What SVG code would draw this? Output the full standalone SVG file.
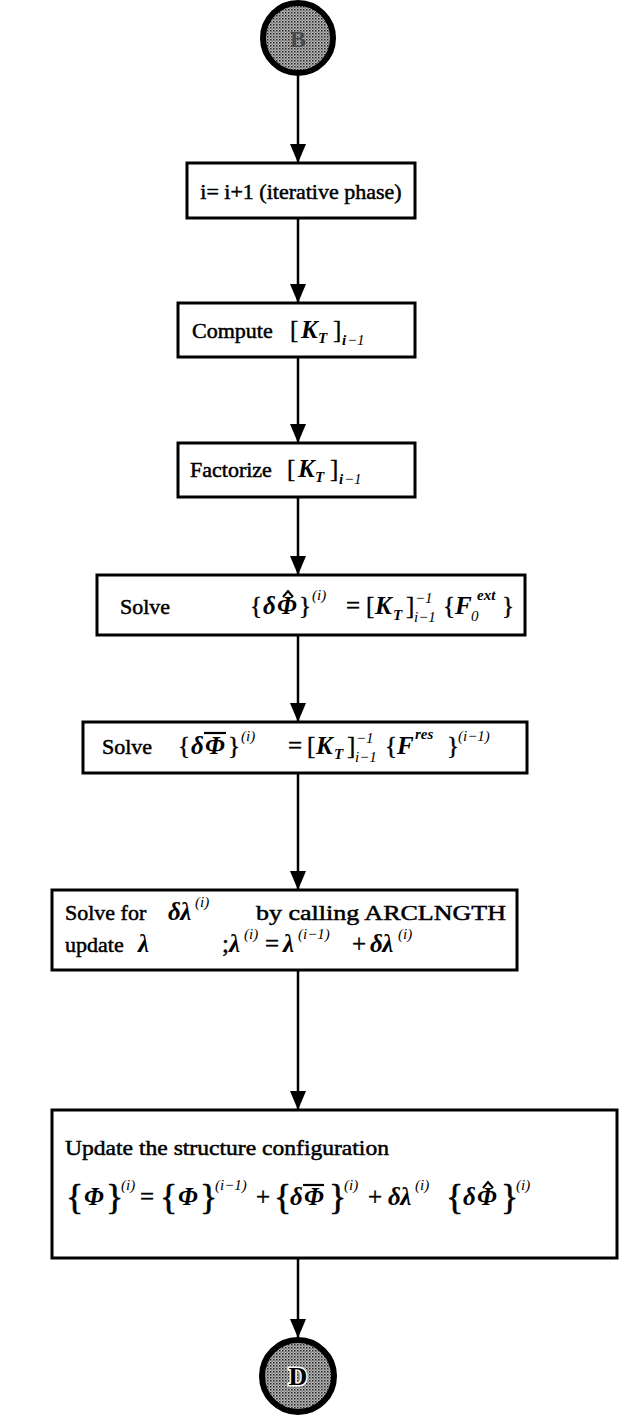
<svg xmlns="http://www.w3.org/2000/svg" width="619" height="1416" viewBox="0 0 619 1416">
<style>
.box{fill:#fff;stroke:#000;stroke-width:3}
.c{stroke:#000;stroke-width:2.5;fill:none}
.t{font-family:"Liberation Serif","Times New Roman",serif;font-size:22px;fill:#000;stroke:#000;stroke-width:0.5}
.m{font-family:"Liberation Serif","Times New Roman",serif;font-size:25px;font-style:italic;font-weight:bold;fill:#000}
.s{font-family:"Liberation Serif","Times New Roman",serif;font-size:15px;font-style:italic;fill:#000}
.sb{font-family:"Liberation Serif","Times New Roman",serif;font-size:15px;font-style:italic;font-weight:bold;fill:#000}
.br{font-family:"Liberation Serif","Times New Roman",serif;font-size:25px;fill:#000;stroke:#000;stroke-width:0.4}
.bb{font-family:"Liberation Serif","Times New Roman",serif;font-size:36px;fill:#000;stroke:#000;stroke-width:0.6}
.acc{fill:none;stroke:#000;stroke-width:2}
.ring{stroke:#000;stroke-width:6;fill:url(#stip)}
</style>
<defs>
<pattern id="stip" width="3" height="3" patternUnits="userSpaceOnUse">
<rect width="3" height="3" fill="#bdbdbd"/>
<rect x="0" y="0" width="1.5" height="1.5" fill="#222"/>
<rect x="1.5" y="1.5" width="1.2" height="1.2" fill="#555"/>
</pattern>
<marker id="ad" markerWidth="16" markerHeight="19" refX="8" refY="19" orient="0" markerUnits="userSpaceOnUse" viewBox="0 0 16 19">
<path d="M0,0 L16,0 L8,19 Z" fill="#000"/>
</marker>
</defs>

<g id="connectors">
<line class="c" x1="298" y1="76" x2="298" y2="163" marker-end="url(#ad)"/>
<line class="c" x1="298" y1="218" x2="298" y2="303" marker-end="url(#ad)"/>
<line class="c" x1="298" y1="357" x2="298" y2="443" marker-end="url(#ad)"/>
<line class="c" x1="298" y1="497" x2="298" y2="575" marker-end="url(#ad)"/>
<line class="c" x1="298" y1="635" x2="298" y2="722" marker-end="url(#ad)"/>
<line class="c" x1="298" y1="773" x2="298" y2="890" marker-end="url(#ad)"/>
<line class="c" x1="298" y1="970" x2="298" y2="1110" marker-end="url(#ad)"/>
<line class="c" x1="298" y1="1258" x2="298" y2="1338" marker-end="url(#ad)"/>
</g>

<g id="start">
<circle class="ring" cx="298" cy="38" r="35"/>
<text x="298" y="47" text-anchor="middle" font-family="Liberation Serif, serif" font-weight="bold" font-size="24" fill="#4a4a4a">B</text>
</g>

<g id="n1">
<rect class="box" x="187" y="163" width="228" height="55"/>
<text class="t" x="301" y="199" text-anchor="middle">i= i+1 (iterative phase)</text>
</g>

<g id="n2">
<rect class="box" x="178" y="303" width="237" height="54"/>
<text class="t" x="192" y="338">Compute</text>
<text class="br" x="290" y="338">[</text>
<text class="m" x="301" y="338">K</text>
<text class="sb" x="318" y="343">T</text>
<text class="br" x="333" y="338">]</text>
<text class="sb" x="342" y="345">i</text>
<text class="s" x="347" y="345">−1</text>
</g>

<g id="n3">
<rect class="box" x="178" y="443" width="237" height="54"/>
<text class="t" x="190" y="477">Factorize</text>
<text class="br" x="287" y="477">[</text>
<text class="m" x="298" y="477">K</text>
<text class="sb" x="315" y="482">T</text>
<text class="br" x="330" y="477">]</text>
<text class="sb" x="339" y="484">i</text>
<text class="s" x="344" y="484">−1</text>
</g>

<g id="n4">
<rect class="box" x="97" y="575" width="428" height="60"/>
<text class="t" x="120" y="614">Solve</text>
<text class="br" x="250" y="614">{</text>
<text class="m" x="263" y="614">δ</text>
<text class="m" x="277" y="614">Φ</text>
<polyline class="acc" points="283,597 288,591 293,597"/>
<text class="br" x="299" y="614">}</text>
<text class="s" x="312" y="600">(i)</text>
<text class="br" x="346" y="614">=</text>
<text class="br" x="366" y="614">[</text>
<text class="m" x="375" y="614">K</text>
<text class="sb" x="393" y="620">T</text>
<text class="br" x="406" y="614">]</text>
<text class="s" x="415" y="603">−1</text>
<text class="s" x="414" y="622">i−1</text>
<text class="br" x="443" y="614">{</text>
<text class="m" x="455" y="614">F</text>
<text class="s" x="471" y="621">0</text>
<text class="sb" x="477" y="600">ext</text>
<text class="br" x="502" y="614">}</text>
</g>

<g id="n5">
<rect class="box" x="83" y="722" width="444" height="51"/>
<text class="t" x="102" y="754">Solve</text>
<text class="br" x="178" y="754">{</text>
<text class="m" x="191" y="754">δ</text>
<text class="m" x="205" y="754">Φ</text>
<line x1="204" y1="733" x2="226" y2="733" stroke="#000" stroke-width="2.2"/>
<text class="br" x="228" y="754">}</text>
<text class="s" x="241" y="741">(i)</text>
<text class="br" x="288" y="754">=</text>
<text class="br" x="307" y="754">[</text>
<text class="m" x="316" y="754">K</text>
<text class="sb" x="334" y="759">T</text>
<text class="br" x="347" y="754">]</text>
<text class="s" x="356" y="743">−1</text>
<text class="s" x="355" y="762">i−1</text>
<text class="br" x="385" y="754">{</text>
<text class="m" x="397" y="754">F</text>
<text class="sb" x="415" y="739">res</text>
<text class="br" x="447" y="754">}</text>
<text class="s" x="458" y="741">(i−1)</text>
</g>

<g id="n6">
<rect class="box" x="52" y="890" width="465" height="80"/>
<text class="t" x="65" y="920" font-size="23">Solve for</text>
<text class="m" x="168" y="920">δλ</text>
<text class="s" x="195" y="907">(i)</text>
<text class="t" x="256" y="920" font-size="23" textLength="250" lengthAdjust="spacingAndGlyphs">by calling ARCLNGTH</text>
<text class="t" x="65" y="952" font-size="23">update</text>
<text class="m" x="138" y="952">λ</text>
<text class="br" x="222" y="952">;</text>
<text class="m" x="229" y="952">λ</text>
<text class="s" x="244" y="939">(i)</text>
<text class="br" x="265" y="952">=</text>
<text class="m" x="283" y="952">λ</text>
<text class="s" x="298" y="939">(i−1)</text>
<text class="br" x="352" y="952">+</text>
<text class="m" x="370" y="952">δλ</text>
<text class="s" x="398" y="939">(i)</text>
</g>

<g id="n7">
<rect class="box" x="52" y="1110" width="565" height="148"/>
<text class="t" x="65" y="1155" font-size="23" textLength="324" lengthAdjust="spacingAndGlyphs">Update the structure configuration</text>
<text class="bb" x="66" y="1209">{</text>
<text class="m" x="84" y="1205">Φ</text>
<text class="bb" x="106" y="1209">}</text>
<text class="s" x="121" y="1190">(i)</text>
<text class="br" x="140" y="1205">=</text>
<text class="bb" x="160" y="1209">{</text>
<text class="m" x="178" y="1205">Φ</text>
<text class="bb" x="200" y="1209">}</text>
<text class="s" x="215" y="1190">(i−1)</text>
<text class="br" x="256" y="1205">+</text>
<text class="bb" x="274" y="1209">{</text>
<text class="m" x="290" y="1205">δ</text>
<text class="m" x="304" y="1205">Φ</text>
<line x1="303" y1="1185" x2="324" y2="1185" stroke="#000" stroke-width="2.2"/>
<text class="bb" x="329" y="1209">}</text>
<text class="s" x="344" y="1190">(i)</text>
<text class="br" x="368" y="1205">+</text>
<text class="m" x="388" y="1205">δλ</text>
<text class="s" x="415" y="1190">(i)</text>
<text class="bb" x="446" y="1209">{</text>
<text class="m" x="463" y="1205">δ</text>
<text class="m" x="477" y="1205">Φ</text>
<polyline class="acc" points="483,1188 488,1182 493,1188"/>
<text class="bb" x="501" y="1209">}</text>
<text class="s" x="516" y="1190">(i)</text>
</g>

<g id="end">
<circle class="ring" cx="298" cy="1376" r="36"/>
<text x="298" y="1385" text-anchor="middle" font-family="Liberation Serif, serif" font-weight="bold" font-size="26" fill="#000" stroke="#fff" stroke-width="3" paint-order="stroke">D</text>
</g>
</svg>
